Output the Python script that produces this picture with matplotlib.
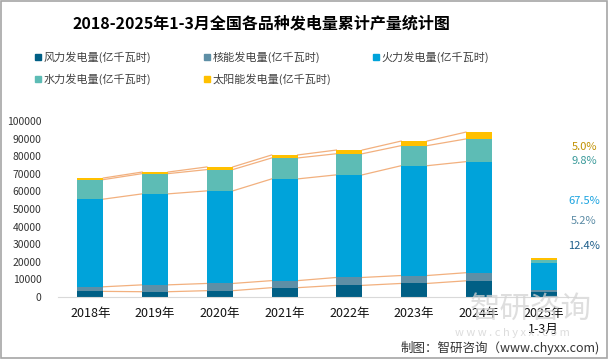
import numpy as np
import matplotlib.pyplot as plt
from matplotlib.patches import Rectangle

plt.rcParams['font.family'] = ['Noto Sans CJK SC', 'DejaVu Sans']

# --- DATA (亿千瓦时) ---
categories = ["2018年", "2019年", "2020年", "2021年", "2022年", "2023年", "2024年", "2025年\n1-3月"]
series_names = ["风力发电量(亿千瓦时)", "核能发电量(亿千瓦时)", "火力发电量(亿千瓦时)",
                "水力发电量(亿千瓦时)", "太阳能发电量(亿千瓦时)"]
wind = [3200, 3000, 3600, 5300, 6600, 7700, 9200, 2780]
nuclear = [2600, 3900, 4100, 4000, 4500, 4500, 4600, 1160]
thermal = [49800, 51700, 52600, 57800, 58300, 62400, 63100, 15120]
hydro = [11100, 11500, 12100, 11900, 12000, 11400, 12900, 2200]
solar = [900, 900, 1500, 1700, 2100, 2600, 3900, 1120]
share_2025 = ["12.4%", "5.2%", "67.5%", "9.8%", "5.0%"]

colors = ["#005F85", "#5E8FA6", "#00A3DA", "#5DBCB5", "#FFC000"]
pct_colors = ["#1F5F8B", "#5B8BA5", "#1AA3E0", "#3A9A9A", "#C09000"]

W, H = 609, 359
fig = plt.figure(figsize=(W / 100, H / 100), dpi=100)

def fx(px):
    return px / W

def fy(py):
    return 1 - py / H

# watermark (behind everything)
fig.text(fx(531), fy(309), "智研咨询", fontsize=22, color="#D4D4D4", alpha=0.75,
         ha="center", va="center", zorder=0)
fig.text(fx(512), fy(333), "w w w . c h y x x . c o m", fontsize=8, color="#D4D4D4",
         alpha=0.8, ha="center", va="center", zorder=0)

ax = fig.add_axes([fx(58), fy(297), fx(576) - fx(58), fy(121) - fy(297)])

x = np.arange(len(categories))
data = [wind, nuclear, thermal, hydro, solar]
bottom = np.zeros(len(categories))
cums = []
for vals, c in zip(data, colors):
    vals = np.array(vals, dtype=float)
    ax.bar(x, vals, width=0.4, bottom=bottom, color=c, zorder=2)
    bottom = bottom + vals
    cums.append(bottom.copy())

# series connecting lines 2018-2024
for cum in cums:
    for i in range(6):
        ax.plot([x[i] + 0.2, x[i + 1] - 0.2], [cum[i], cum[i + 1]],
                color="#F2B07E", lw=0.9, zorder=1)

ax.set_xlim(-0.5, len(categories) - 0.5)
ax.set_ylim(0, 100000)
ax.set_yticks(np.arange(0, 100001, 10000))
ax.set_yticklabels([str(v) for v in range(0, 100001, 10000)], fontsize=7.5, color="#333333")
ax.set_xticks(x)
ax.set_xticklabels(categories, fontsize=9, color="#111111", linespacing=1.3)
ax.tick_params(axis="both", length=0)
ax.tick_params(axis="x", pad=7)
ax.tick_params(axis="y", pad=12)
for s in ["top", "right", "left"]:
    ax.spines[s].set_visible(False)
ax.spines["bottom"].set_color("#D9D9D9")
ax.set_facecolor("none")

# 2025 shares on the right
pct_y = [246, 221, 201, 161, 147]
for txt, py, c in zip(share_2025, pct_y, pct_colors):
    fig.text(fx(584), fy(py), txt, color=c, fontsize=8, ha="center", va="center")

# title
fig.text(fx(261), fy(24), "2018-2025年1-3月全国各品种发电量累计产量统计图",
         fontsize=11.5, fontweight="bold", ha="center", va="center", color="#000000")

# legend
leg_pos = [(37.7, 57), (207, 57), (375.7, 57), (37.7, 79), (207, 79)]
for (lx, ly), name, c in zip(leg_pos, series_names, colors):
    fig.patches.append(Rectangle((fx(lx - 3), fy(ly + 3)), 6 / W, 6 / H,
                                 transform=fig.transFigure, color=c))
    fig.text(fx(lx + 6), fy(ly), name, fontsize=8, color="#404040", va="center", ha="left")

# footer
fig.text(fx(600), fy(348), "制图：智研咨询（www.chyxx.com)", fontsize=9,
         color="#333333", ha="right", va="center")

# border
fig.patches.append(Rectangle((0.001, 0.002), 0.996, 0.995, transform=fig.transFigure,
                             fill=False, edgecolor="#A6A6A6", lw=1.2))

fig.savefig("out.png", dpi=100)
